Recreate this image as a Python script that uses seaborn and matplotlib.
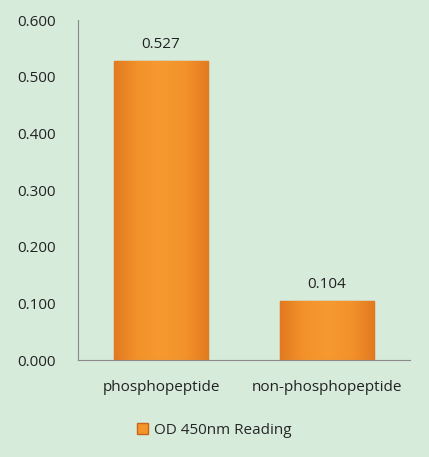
import numpy as np
import pandas as pd
import matplotlib
matplotlib.use("Agg")
import matplotlib.pyplot as plt
import seaborn as sns
from matplotlib.colors import LinearSegmentedColormap
from matplotlib.patches import Patch

categories = ["phosphopeptide", "non-phosphopeptide"]
values = [0.527, 0.104]
series_name = "OD 450nm Reading"
yticks = [0.0, 0.1, 0.2, 0.3, 0.4, 0.5, 0.6]

BG = "#d6ebd9"
ORANGE = "#f4952a"
EDGE = "#c7661a"

df = pd.DataFrame({"Sample": categories, "OD": values})

sns.set_theme(style="white")
plt.rcParams["font.family"] = ["Open Sans", "DejaVu Sans"]

fig = plt.figure(figsize=(4.29, 4.57), dpi=100, facecolor=BG)
ax = fig.add_axes([0.182, 0.212, 0.774, 0.744])
ax.set_facecolor(BG)

sns.barplot(data=df, x="Sample", y="OD", color=ORANGE, width=0.57,
            edgecolor=EDGE, linewidth=1.0, saturation=1, ax=ax)

# soft shading across each bar
cmap = LinearSegmentedColormap.from_list(
    "bar", ["#e27a20", "#f3922a", "#f69a30", "#f3922a", "#e27a20"])
grad = np.linspace(0, 1, 256).reshape(1, -1)
for p in ax.patches:
    x0, y0 = p.get_x(), p.get_y()
    w, h = p.get_width(), p.get_height()
    im = ax.imshow(grad, extent=[x0, x0 + w, y0, y0 + h], aspect="auto",
                   cmap=cmap, zorder=p.get_zorder() + 0.1)
    im.set_clip_path(p)

for i, v in enumerate(values):
    ax.text(i, v + 0.016, f"{v:.3f}", ha="center", va="bottom", fontsize=11, color="#222222")

ax.set_xlim(-0.5, 1.5)
ax.set_ylim(0, 0.6)
ax.set_yticks(yticks)
ax.set_yticklabels([f"{t:.3f}" for t in yticks], fontsize=11, color="#222222")
ax.tick_params(axis="x", labelsize=11, colors="#222222", pad=14, length=0)
ax.tick_params(axis="y", pad=16, length=0)
ax.set_xlabel("")
ax.set_ylabel("")
for s in ["top", "right"]:
    ax.spines[s].set_visible(False)
for s in ["left", "bottom"]:
    ax.spines[s].set_color("#8a8a8a")
    ax.spines[s].set_linewidth(0.8)

handle = Patch(facecolor=ORANGE, edgecolor=EDGE, label=series_name)
fig.legend(handles=[handle], loc="center", bbox_to_anchor=(0.5, 0.058), frameon=False,
           fontsize=11, handlelength=0.7, handleheight=0.7, handletextpad=0.4)

fig.savefig("out.png", dpi=100, facecolor=BG)
